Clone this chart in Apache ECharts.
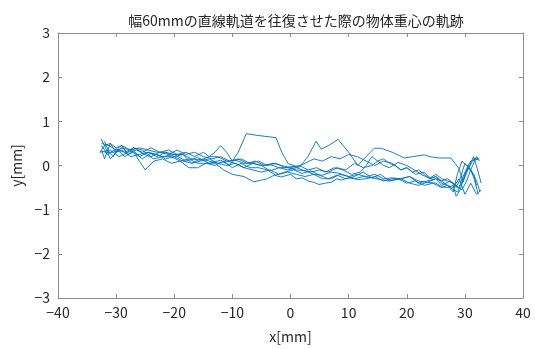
<!DOCTYPE html>
<html>
<head>
<meta charset="utf-8">
<script src="https://cdn.jsdelivr.net/npm/echarts@6/dist/echarts.min.js"></script>
<style>
  html, body { margin: 0; padding: 0; background: #fff; }
  #chart { width: 535px; height: 349px; }
</style>
</head>
<body>
<div id="chart"></div>
<script>
// Centre-of-mass trajectory, one pair of arrays per stroke (alternating direction)
const pass1X = [-32.5, -31.5, -30, -28.5, -27, -25.5, -24, -22, -20, -18, -16, -14, -12, -10.5, -9, -7.6, -5.6, -2.5, -1.5, -0.4, 1.5, 3, 4.4, 5.3, 6.5, 8.2, 10, 11.6, 13, 14.4, 15.6, 17.5, 19.6, 21, 23, 24, 25.5, 27.6, 29, 29.7, 30.5, 31.5, 32.3];
const pass1Y = [0.45, 0.25, 0.38, 0.2, 0.33, 0.15, 0.28, 0.2, 0.25, 0.1, 0.18, 0.05, 0.12, 0.0, 0.3, 0.72, 0.68, 0.63, 0.3, 0.04, -0.04, 0.2, 0.55, 0.37, 0.45, 0.59, 0.3, 0.0, 0.2, 0.39, 0.39, 0.3, 0.17, 0.2, 0.24, 0.2, 0.17, 0.17, -0.07, -0.37, -0.1, 0.15, 0.17];

const pass2X = [32.6, 32, 31.5, 30.8, 30, 29.2, 28.5, 27.5, 26, 25, 23.5, 22, 20.5, 19, 17, 15.5, 14, 12.5, 11, 9.5, 8, 6.5, 5, 3.5, 2, 0.5, -1, -2.5, -4, -5.5, -7, -8.5, -10, -11.5, -13, -14.5, -16, -17.5, -19, -20.5, -22, -23.5, -25, -26.5, -28, -29.5, -31, -32.8];
const pass2Y = [-0.6, -0.35, -0.2, -0.05, 0.05, -0.3, -0.5, -0.35, -0.45, -0.3, -0.35, -0.4, -0.25, -0.3, -0.35, -0.2, -0.28, -0.15, -0.25, -0.3, -0.22, -0.3, -0.22, -0.12, -0.18, -0.1, -0.15, -0.22, -0.1, -0.05, -0.05, 0.05, -0.05, 0.1, 0.0, 0.05, 0.05, 0.15, 0.1, 0.2, 0.2, 0.15, 0.25, 0.35, 0.3, 0.2, 0.35, 0.3];

const pass3X = [-32, -31.2, -30.5, -29.5, -29, -28, -27, -26, -25, -23.5, -22, -20.5, -19, -17.5, -16, -14.5, -13, -11.5, -10, -8, -6.3, -5, -4, -2.8, -1.6, 0, 1, 2, 3, 4, 4.9, 6, 7, 8, 8.7, 10, 11, 12.5, 14, 15.5, 17, 18.5, 20, 21.5, 23, 24.5, 26, 27, 28, 28.8, 29.5, 30.2, 31, 32.5];
const pass3Y = [0.55, 0.3, 0.2, 0.42, 0.45, 0.25, 0.3, 0.1, -0.1, 0.1, 0.15, 0.05, 0.1, -0.05, -0.05, 0.05, 0.05, -0.1, -0.2, -0.25, -0.37, -0.33, -0.3, -0.22, -0.26, -0.2, -0.3, -0.28, -0.35, -0.38, -0.43, -0.4, -0.38, -0.3, -0.33, -0.28, -0.3, -0.25, -0.28, -0.32, -0.35, -0.3, -0.4, -0.35, -0.45, -0.4, -0.5, -0.45, -0.55, -0.6, -0.3, -0.1, 0.1, 0.15];

const pass4X = [32.3, 31.6, 31, 30.2, 29.5, 28.7, 28, 27, 26, 25, 24, 22.5, 21.3, 20, 18.5, 17, 16, 15, 14, 12.5, 11, 9.5, 8, 6.5, 5, 3.5, 2, 0.5, -1, -2.5, -4, -5.5, -7, -8.5, -10, -11, -12, -13, -14, -15, -16.5, -18, -19.5, -21, -22.5, -24, -25.5, -27, -28.5, -30, -31.2, -32.5];
const pass4Y = [-0.65, -0.3, -0.1, 0.0, 0.1, -0.2, -0.6, -0.45, -0.4, -0.25, -0.3, -0.2, -0.1, 0.0, 0.07, -0.05, 0.0, 0.1, 0.0, -0.05, 0.05, -0.1, -0.05, -0.15, -0.1, -0.15, -0.1, -0.02, -0.05, 0.05, 0.0, 0.1, 0.05, 0.15, 0.1, 0.3, 0.45, 0.3, 0.2, 0.3, 0.2, 0.3, 0.25, 0.35, 0.3, 0.4, 0.3, 0.4, 0.3, 0.35, 0.45, 0.5];

const pass5X = [-32.5, -32, -31, -30, -29, -28, -27, -25.5, -24, -22.5, -21, -19.5, -18, -16.5, -15, -13.5, -12, -10.5, -9, -7.5, -6, -4.5, -3, -1.5, 0, 1.5, 3, 4.5, 6, 7.5, 9, 10.5, 12, 13, 14, 15, 16, 17, 18, 19, 20, 21, 22, 23, 24, 25, 26, 27, 28, 28.8, 29.5, 30.3, 31, 32, 32.5];
const pass5Y = [0.35, 0.15, 0.5, 0.3, 0.4, 0.3, 0.4, 0.35, 0.2, 0.3, 0.25, 0.35, 0.25, 0.3, 0.2, 0.15, 0.2, 0.1, 0.15, 0.05, 0.1, 0.0, 0.05, 0.0, -0.05, 0.0, -0.1, -0.05, -0.15, -0.05, -0.1, -0.2, -0.15, 0.0, 0.2, 0.1, 0.15, 0.05, 0.0, -0.1, -0.05, -0.15, -0.1, -0.2, -0.3, -0.25, -0.35, -0.3, -0.4, -0.5, -0.55, -0.35, -0.1, 0.2, 0.1];

const pass6X = [32, 31.5, 30.5, 29.8, 29, 28, 27, 26, 25, 24, 23, 21.5, 20, 19, 17.5, 16, 14.5, 13, 11.5, 10, 8.5, 7, 5.5, 4, 2.5, 1, -0.5, -2, -3.5, -5, -6.5, -8, -9.5, -11, -12.5, -14, -15.5, -17, -18.5, -20, -21.5, -23, -24.5, -26, -27.5, -29, -30.5, -32];
const pass6Y = [-0.45, -0.2, -0.05, -0.3, -0.5, -0.4, -0.35, -0.3, -0.2, -0.28, -0.15, -0.2, -0.05, -0.1, 0.05, 0.1, 0.0, 0.1, 0.2, 0.25, 0.15, 0.2, 0.1, 0.15, 0.05, -0.05, -0.1, -0.05, -0.12, 0.0, 0.05, -0.05, 0.05, 0.1, 0.05, 0.1, 0.15, 0.05, 0.25, 0.2, 0.15, 0.25, 0.3, 0.2, 0.35, 0.4, 0.3, 0.3];

const pass7X = [-32.8, -32, -31, -30, -29, -27.5, -26, -24.5, -23, -21.5, -20, -18.5, -17, -15.5, -14, -12.5, -11, -9.5, -8, -6.5, -5, -3.5, -2, -0.5, 1, 2.5, 4, 5.5, 7, 8.5, 10, 11.5, 13, 14.5, 16, 17.5, 19, 20.5, 22, 23.5, 25, 26, 27, 28, 28.5, 29.2, 30, 30.8, 31.5, 32.2, 32.8];
const pass7Y = [0.3, 0.45, 0.15, 0.3, 0.35, 0.2, 0.25, 0.3, 0.2, 0.3, 0.2, 0.1, 0.05, 0.1, 0.15, 0.05, 0.0, 0.05, -0.05, -0.1, -0.15, -0.1, -0.2, -0.15, -0.2, -0.25, -0.2, -0.3, -0.3, -0.2, -0.25, -0.32, -0.3, -0.25, -0.35, -0.3, -0.3, -0.4, -0.45, -0.38, -0.4, -0.48, -0.5, -0.45, -0.7, -0.55, -0.2, 0.0, 0.2, -0.1, -0.4];

const pass8X = [32.8, 32, 31, 30, 29, 28, 27, 26, 25, 23.5, 22, 20.5, 19, 17.5, 16, 14.5, 13, 11.5, 10, 8.5, 7, 5.5, 4, 2.5, 1, -0.5, -2, -3.5, -5, -6.5, -8, -9.5, -11, -12.5, -14, -15.5, -17, -18.5, -20, -21.5, -23, -24.5, -26, -27.5, -29, -30, -31, -32, -32.6];
const pass8Y = [-0.55, -0.65, -0.4, -0.65, -0.3, -0.5, -0.45, -0.35, -0.3, -0.38, -0.35, -0.25, -0.3, -0.28, -0.3, -0.2, -0.25, -0.2, -0.25, -0.18, -0.15, -0.22, -0.2, -0.12, -0.1, -0.05, -0.05, 0.02, 0.0, 0.05, 0.05, 0.12, 0.1, 0.2, 0.2, 0.12, 0.15, 0.25, 0.25, 0.3, 0.3, 0.35, 0.4, 0.35, 0.45, 0.4, 0.5, 0.45, 0.6];

const passes = [
  [pass1X, pass1Y], [pass2X, pass2Y], [pass3X, pass3Y], [pass4X, pass4Y],
  [pass5X, pass5Y], [pass6X, pass6Y], [pass7X, pass7Y], [pass8X, pass8Y]
];

const xTicks = [-40, -30, -20, -10, 0, 10, 20, 30, 40];
const yTicks = [-3, -2, -1, 0, 1, 2, 3];

const titleText = '幅60mmの直線軌道を往復させた際の物体重心の軌跡';
const xLabel = 'x[mm]';
const yLabel = 'y[mm]';

const FONT = '"Noto Sans CJK JP", "Noto Sans", sans-serif';
const TEXT = '#262626';
const AXIS = '#8c8c8c';
const LINE = '#0072BD';

// MATLAB-style minus sign on tick labels
const fmt = v => String(v).replace('-', '\u2212');

const axisCommon = {
  axisLine: { show: true, onZero: false, lineStyle: { color: AXIS, width: 1 } },
  axisTick: { show: true, inside: true, length: 4, lineStyle: { color: AXIS } },
  splitLine: { show: false }
};

const chart = echarts.init(document.getElementById('chart'), null, { renderer: 'canvas' });

chart.setOption({
  animation: false,
  backgroundColor: '#ffffff',
  title: {
    text: titleText,
    left: 291, top: 9, textAlign: 'center',
    textStyle: { fontFamily: FONT, fontSize: 14, fontWeight: 'normal', color: TEXT }
  },
  grid: { left: 58, right: 12, top: 33, bottom: 42, containLabel: false },
  xAxis: [
    Object.assign({
      type: 'value', position: 'bottom',
      min: xTicks[0], max: xTicks[xTicks.length - 1], interval: 10,
      name: xLabel, nameLocation: 'middle', nameGap: 32,
      nameTextStyle: { fontFamily: FONT, fontSize: 14, color: TEXT },
      axisLabel: { fontFamily: FONT, fontSize: 14, color: TEXT, margin: 8, formatter: fmt }
    }, axisCommon),
    Object.assign({
      type: 'value', position: 'top',
      min: xTicks[0], max: xTicks[xTicks.length - 1], interval: 10,
      axisLabel: { show: false }
    }, axisCommon)
  ],
  yAxis: [
    Object.assign({
      type: 'value', position: 'left',
      min: yTicks[0], max: yTicks[yTicks.length - 1], interval: 1,
      name: yLabel, nameLocation: 'middle', nameGap: 30, nameRotate: 90,
      nameTextStyle: { fontFamily: FONT, fontSize: 14, color: TEXT },
      axisLabel: { fontFamily: FONT, fontSize: 14, color: TEXT, margin: 8, formatter: fmt }
    }, axisCommon),
    Object.assign({
      type: 'value', position: 'right',
      min: yTicks[0], max: yTicks[yTicks.length - 1], interval: 1,
      axisLabel: { show: false }
    }, axisCommon)
  ],
  series: passes.map(([xs, ys], i) => ({
    name: 'pass' + (i + 1),
    type: 'line',
    xAxisIndex: 0, yAxisIndex: 0,
    data: xs.map((x, k) => [x, ys[k]]),
    showSymbol: false,
    symbol: 'none',
    lineStyle: { color: LINE, width: 0.9 },
    z: 2
  }))
});
</script>
</body>
</html>
